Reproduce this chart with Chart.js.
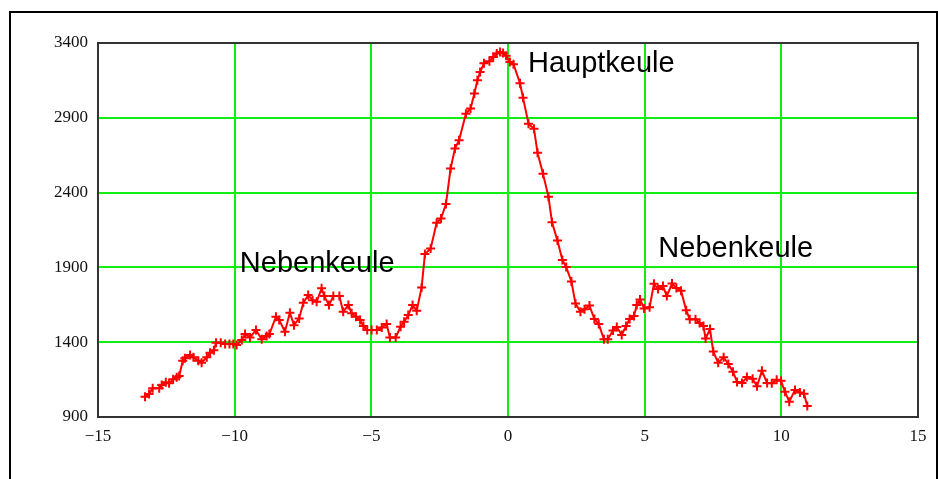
<!DOCTYPE html>
<html>
<head>
<meta charset="utf-8">
<script src="https://cdn.jsdelivr.net/npm/chart.js@4/dist/chart.umd.min.js"></script>
<style>
  body { margin: 0; background: #fff; }
  .frame { position: absolute; left: 9px; top: 11px; width: 925px; height: 520px; border: 2px solid #000; }
  #myChart { position: absolute; left: 0; top: 0; }
</style>
</head>
<body>
<div class="frame"></div>
<canvas id="myChart" width="938" height="479"></canvas>
<script>
// measured curve, x = angle, y = level
var xs = [-13.28, -13.13, -13.00, -12.76, -12.67, -12.52, -12.40, -12.25, -12.12, -12.03,
  -11.90, -11.82, -11.63, -11.51, -11.33, -11.21, -11.02, -10.90, -10.76, -10.68,
  -10.51, -10.35, -10.19, -10.05, -9.93, -9.74, -9.62, -9.44, -9.22, -9.01,
  -8.83, -8.73, -8.49, -8.37, -8.16, -7.98, -7.83, -7.64, -7.49, -7.31,
  -7.15, -7.00, -6.82, -6.72, -6.55, -6.39, -6.17, -6.03, -5.84, -5.72,
  -5.56, -5.41, -5.29, -5.15, -4.99, -4.80, -4.62, -4.44, -4.32, -4.11,
  -3.93, -3.80, -3.65, -3.49, -3.34, -3.16, -3.04, -2.83, -2.61, -2.45,
  -2.27, -2.10, -1.94, -1.79, -1.54, -1.37, -1.23, -1.12, -1.02, -0.88,
  -0.68, -0.54, -0.41, -0.29, -0.18, -0.07, 0.07, 0.20, 0.44, 0.55,
  0.75, 0.95, 1.08, 1.28, 1.48, 1.61, 1.81, 1.99, 2.13, 2.32,
  2.47, 2.65, 2.80, 2.98, 3.16, 3.32, 3.51, 3.65, 3.84, 3.98,
  4.16, 4.32, 4.45, 4.61, 4.71, 4.83, 4.98, 5.18, 5.34, 5.49,
  5.67, 5.81, 6.00, 6.16, 6.33, 6.52, 6.65, 6.86, 7.01, 7.15,
  7.23, 7.39, 7.51, 7.69, 7.89, 8.06, 8.23, 8.38, 8.56, 8.74,
  8.95, 9.11, 9.29, 9.48, 9.65, 9.83, 9.99, 10.13, 10.29, 10.50,
  10.68, 10.83, 10.95];
var ys = [1036, 1054, 1092, 1092, 1114, 1132, 1125, 1152, 1165, 1174,
  1276, 1292, 1314, 1299, 1276, 1263, 1299, 1329, 1347, 1396,
  1396, 1388, 1388, 1388, 1381, 1414, 1454, 1432, 1481, 1419,
  1441, 1454, 1570, 1548, 1470, 1597, 1514, 1559, 1663, 1715,
  1681, 1670, 1760, 1708, 1648, 1708, 1708, 1603, 1648, 1593,
  1570, 1548, 1508, 1481, 1481, 1481, 1499, 1521, 1432, 1432,
  1503, 1537, 1581, 1648, 1610, 1766, 1989, 2027, 2198, 2227,
  2323, 2561, 2695, 2750, 2927, 2962, 3062, 3151, 3206, 3264,
  3278, 3306, 3329, 3340, 3333, 3314, 3273, 3258, 3131, 3034,
  2860, 2827, 2667, 2526, 2373, 2202, 2079, 1949, 1902, 1806,
  1658, 1603, 1621, 1645, 1555, 1521, 1419, 1419, 1478, 1501,
  1448, 1508, 1555, 1575, 1648, 1686, 1626, 1633, 1790, 1755,
  1775, 1708, 1792, 1762, 1744, 1613, 1553, 1553, 1528, 1508,
  1424, 1488, 1337, 1263, 1299, 1254, 1203, 1134, 1127, 1167,
  1155, 1105, 1209, 1127, 1125, 1149, 1142, 1069, 1002, 1080,
  1064, 1055, 973];

var xTicks = [-15, -10, -5, 0, 5, 10, 15];
var yTicks = [900, 1400, 1900, 2400, 2900, 3400];

// lobe labels, anchored at left/baseline in data units
var noteText = ["Hauptkeule", "Nebenkeule", "Nebenkeule"];
var noteX = [0.73, -9.81, 5.50];
var noteY = [3206, 1870, 1967];

var points = [];
for (let i = 0; i < xs.length; i++) {
  points.push({ x: xs[i], y: ys[i] });
}

function minusSign(v) {
  return String(v).replace("-", "\u2212");
}

// frame round the plot + lobe labels
var extras = {
  id: "extras",
  afterDraw(chart) {
    const ctx = chart.ctx;
    const a = chart.chartArea;
    ctx.save();
    ctx.strokeStyle = "#333";
    ctx.lineWidth = 2;
    ctx.strokeRect(a.left, a.top, a.right - a.left, a.bottom - a.top);
    ctx.fillStyle = "#000";
    ctx.font = "29px 'Liberation Sans', Arial, sans-serif";
    ctx.textAlign = "left";
    ctx.textBaseline = "alphabetic";
    for (let i = 0; i < noteText.length; i++) {
      ctx.fillText(noteText[i], chart.scales.x.getPixelForValue(noteX[i]), chart.scales.y.getPixelForValue(noteY[i]));
    }
    ctx.restore();
  }
};

var tickFont = { family: "'Liberation Serif', serif", size: 17 };

new Chart(document.getElementById("myChart").getContext("2d"), {
  type: "scatter",
  data: {
    datasets: [{
      data: points,
      showLine: true,
      borderColor: "#ff0000",
      borderWidth: 2,
      pointStyle: "cross",
      pointRadius: 4.5,
      pointBorderWidth: 2,
      pointBorderColor: "#ff0000",
      tension: 0
    }]
  },
  options: {
    responsive: false,
    animation: false,
    layout: { padding: { top: 43, right: 20, left: 0, bottom: 0 } },
    plugins: { legend: { display: false }, tooltip: { enabled: false } },
    scales: {
      x: {
        type: "linear",
        min: -15, max: 15,
        afterBuildTicks: (s) => { s.ticks = xTicks.map(v => ({ value: v })); },
        afterFit: (s) => { s.height = 62; },
        ticks: { color: "#111", font: tickFont, padding: 9, maxRotation: 0, callback: minusSign },
        grid: {
          drawTicks: false,
          color: (c) => (c.tick && (c.tick.value === -15 || c.tick.value === 15)) ? "rgba(0,0,0,0)" : "#11ee11",
          lineWidth: 2
        },
        border: { display: false }
      },
      y: {
        min: 900, max: 3400,
        afterBuildTicks: (s) => { s.ticks = yTicks.map(v => ({ value: v })); },
        afterFit: (s) => { s.width = 98; },
        ticks: { color: "#111", font: tickFont, padding: 10, callback: (v) => String(v) },
        grid: {
          drawTicks: false,
          color: (c) => (c.tick && (c.tick.value === 900 || c.tick.value === 3400)) ? "rgba(0,0,0,0)" : "#11ee11",
          lineWidth: 2
        },
        border: { display: false }
      }
    }
  },
  plugins: [extras]
});
</script>
</body>
</html>
